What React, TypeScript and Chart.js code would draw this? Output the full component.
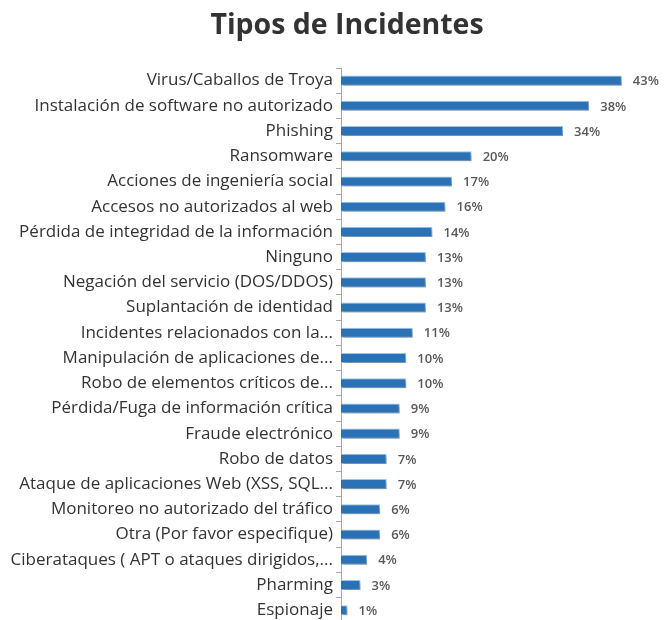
import React, { useEffect, useRef } from "react";
import { Chart, registerables } from "chart.js";

Chart.register(...registerables);

const categories = [
  "Virus/Caballos de Troya",
  "Instalación de software no autorizado",
  "Phishing",
  "Ransomware",
  "Acciones de ingeniería social",
  "Accesos no autorizados al web",
  "Pérdida de integridad de la información",
  "Ninguno",
  "Negación del servicio (DOS/DDOS)",
  "Suplantación de identidad",
  "Incidentes relacionados con la...",
  "Manipulación de aplicaciones de...",
  "Robo de elementos críticos de...",
  "Pérdida/Fuga de información crítica",
  "Fraude electrónico",
  "Robo de datos",
  "Ataque de aplicaciones Web (XSS, SQL...",
  "Monitoreo no autorizado del tráfico",
  "Otra (Por favor especifique)",
  "Ciberataques ( APT o ataques dirigidos,...",
  "Pharming",
  "Espionaje",
];

const values = [43, 38, 34, 20, 17, 16, 14, 13, 13, 13, 11, 10, 10, 9, 9, 7, 7, 6, 6, 4, 3, 1];

const titleText = "Tipos de Incidentes";
const FONT = "'Open Sans', 'DejaVu Sans', sans-serif";

const titlePlugin = {
  id: "customTitle",
  afterDraw(chart: any) {
    const ctx = chart.ctx;
    ctx.save();
    ctx.font = `bold 28.5px ${FONT}`;
    ctx.fillStyle = "#333333";
    ctx.textAlign = "center";
    ctx.textBaseline = "middle";
    ctx.fillText(titleText, 339, 18);
    ctx.restore();
  },
};

const shadowPlugin = {
  id: "barShadow",
  beforeDatasetsDraw(chart: any) {
    const ctx = chart.ctx;
    ctx.save();
    ctx.shadowColor = "rgba(0,0,0,0.25)";
    ctx.shadowBlur = 3;
    ctx.shadowOffsetX = 2;
    ctx.shadowOffsetY = 3;
  },
  afterDatasetsDraw(chart: any) {
    chart.ctx.restore();
  },
};

const valueLabelPlugin = {
  id: "valueLabels",
  afterDatasetsDraw(chart: any) {
    const ctx = chart.ctx;
    const meta = chart.getDatasetMeta(0);
    ctx.save();
    ctx.font = `600 13px ${FONT}`;
    ctx.fillStyle = "#595959";
    ctx.textAlign = "left";
    ctx.textBaseline = "middle";
    meta.data.forEach((bar: any, i: number) => {
      ctx.fillText(values[i] + "%", bar.x + 11, bar.y + 1);
    });
    ctx.restore();
  },
};

export default function App() {
  const ref = useRef<HTMLCanvasElement>(null);
  useEffect(() => {
    document.documentElement.style.overflow = "hidden";
    if (!ref.current) return;
    const chart = new Chart(ref.current, {
      type: "bar",
      data: {
        labels: categories,
        datasets: [
          {
            data: values,
            backgroundColor: "#2A72B5",
            borderColor: "#9DC3E6",
            borderWidth: 1,
            barPercentage: 0.4,
            categoryPercentage: 1,
          },
        ],
      },
      options: {
        indexAxis: "y",
        animation: false,
        responsive: false,
        maintainAspectRatio: false,
        layout: { padding: { top: 60, right: 14, bottom: 0, left: 0 } },
        plugins: {
          legend: { display: false },
          tooltip: { enabled: false },
          title: { display: false },
        },
        scales: {
          x: {
            display: false,
            min: 0,
            max: 47,
          },
          y: {
            afterFit(scale: any) {
              scale.width = 333;
            },
            border: { display: true, color: "#A6A6A6", width: 1 },
            grid: {
              display: true,
              offset: true,
              drawOnChartArea: false,
              drawTicks: true,
              tickLength: 5,
              color: "#A6A6A6",
            },
            ticks: {
              color: "#333333",
              padding: 3,
              autoSkip: false,
              font: { family: FONT, size: 17 },
            },
          },
        },
      },
      plugins: [shadowPlugin, valueLabelPlugin, titlePlugin],
    });
    return () => chart.destroy();
  }, []);
  return (
    <div style={{ width: 654, height: 612, overflow: "hidden" }}>
      <canvas ref={ref} width={654} height={628} style={{ display: "block" }} />
    </div>
  );
}
